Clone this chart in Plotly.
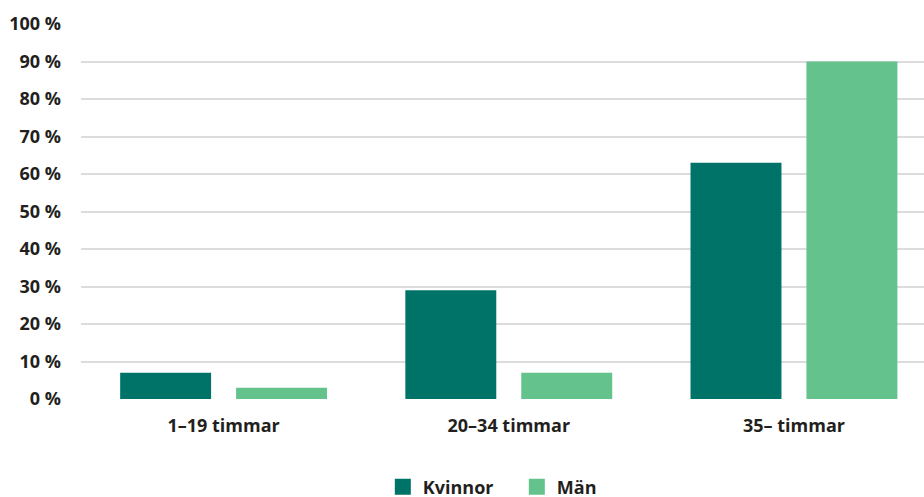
import plotly.graph_objects as go

categories = ["1–19 timmar", "20–34 timmar", "35– timmar"]
kvinnor = [7, 29, 63]
man = [3, 7, 90]
y_ticks = [0, 10, 20, 30, 40, 50, 60, 70, 80, 90, 100]
y_tick_labels = [f"{v} %" for v in y_ticks]

FONT = "Open Sans"
TXT = "#231f20"
C_K = "#007368"
C_M = "#64C28C"

fig = go.Figure()
fig.add_trace(go.Bar(name="Kvinnor", x=categories, y=kvinnor, marker_color=C_K,
                     marker_line_width=0, showlegend=False))
fig.add_trace(go.Bar(name="Män", x=categories, y=man, marker_color=C_M,
                     marker_line_width=0, showlegend=False))
# legend entries with larger square symbols
for name, col in [("Kvinnor", C_K), ("Män", C_M)]:
    fig.add_trace(go.Scatter(name=name, x=[None], y=[None], mode="markers",
                             marker=dict(symbol="square", size=16, color=col),
                             showlegend=True))

fig.update_layout(
    width=924, height=497,
    margin=dict(l=81, r=0, t=24, b=98),
    paper_bgcolor="white", plot_bgcolor="white",
    barmode="group", bargap=0.187, bargroupgap=0.2155,
    font=dict(family=FONT, size=16, color=TXT),
    showlegend=True,
    legend=dict(orientation="h", x=0.517, xanchor="center",
                y=0.020, yanchor="middle", yref="container",
                font=dict(family=FONT, size=18, color=TXT, weight="bold"),
                entrywidth=89, entrywidthmode="pixels", traceorder="normal",
                itemsizing="trace"),
)
fig.update_xaxes(range=[-0.5, 2.456], showgrid=False, zeroline=False, showline=False,
                 ticks="", ticklabelstandoff=14, automargin=False,
                 tickfont=dict(family=FONT, size=18, color=TXT, weight="bold"))
fig.update_yaxes(range=[0, 100], tickvals=y_ticks, ticktext=y_tick_labels,
                 showgrid=True, gridcolor="#dcdcdc", gridwidth=2, automargin=False,
                 zeroline=False, showline=False, ticks="", ticklabelstandoff=19,
                 tickfont=dict(family=FONT, size=18, color=TXT, weight="bold"))

fig.write_html("out.html", config={"displayModeBar": False},
               post_script="document.body.style.margin='0';document.body.style.overflow='hidden';")
